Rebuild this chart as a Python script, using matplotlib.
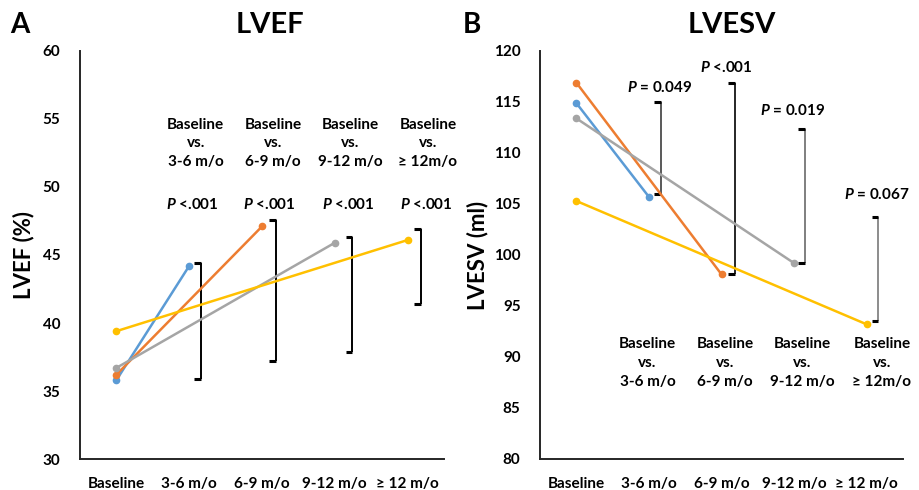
import numpy as np
import matplotlib
matplotlib.use("Agg")
import matplotlib.pyplot as plt

plt.rcParams['font.family'] = ['Lato', 'DejaVu Sans']
plt.rcParams['font.weight'] = 'bold'
plt.rcParams['axes.labelweight'] = 'bold'
plt.rcParams['mathtext.fontset'] = 'custom'
plt.rcParams['mathtext.it'] = 'Lato:italic:bold'
plt.rcParams['mathtext.rm'] = 'Lato:bold'

# categories
cats = ['Baseline', '3-6 m/o', '6-9 m/o', '9-12 m/o', '\u2265 12 m/o']
groups = ['3-6 m/o', '6-9 m/o', '9-12 m/o', '\u2265 12m/o']
colors = ['#5B9BD5', '#ED7D31', '#A5A5A5', '#FFC000']

# LVEF (%): baseline and follow-up per group
lvef_base = [35.8, 36.2, 36.7, 39.4]
lvef_follow = [44.2, 47.1, 45.9, 46.1]
lvef_br_lo = [35.9, 37.2, 37.9, 41.4]
lvef_br_hi = [44.4, 47.6, 46.3, 46.9]
lvef_p = ['$P$ <.001', '$P$ <.001', '$P$ <.001', '$P$ <.001']

# LVESV (ml)
lvesv_base = [114.9, 116.9, 113.4, 105.3]
lvesv_follow = [105.7, 98.1, 99.2, 93.2]
lvesv_br_lo = [106.0, 98.1, 99.2, 93.5]
lvesv_br_hi = [115.0, 116.9, 112.4, 103.7]
lvesv_p = ['$P$ = 0.049', '$P$ <.001', '$P$ = 0.019', '$P$ = 0.067']

fig = plt.figure(figsize=(9.19, 4.9), dpi=100)
ax1 = fig.add_axes([80/919, 1-459/490, 364/919, 408/490])
ax2 = fig.add_axes([540/919, 1-459/490, 363/919, 408/490])


def style(ax, ylo, yhi, step):
    ax.set_xlim(-0.5, 4.5)
    ax.set_ylim(ylo, yhi)
    ax.set_yticks(np.arange(ylo, yhi + 1, step))
    ax.set_xticks(range(5))
    ax.set_xticklabels(cats)
    ax.tick_params(length=0, labelsize=11, pad=13)
    ax.tick_params(axis='y', pad=14)
    for s in ['top', 'right']:
        ax.spines[s].set_visible(False)
    for s in ['left', 'bottom']:
        ax.spines[s].set_linewidth(1.4)
        ax.spines[s].set_color('#262626')


def draw(ax, base, follow):
    for i in range(4):
        ax.plot([0, i + 1], [base[i], follow[i]], color=colors[i], lw=1.8,
                marker='o', ms=4.5, zorder=3)


def bracket(ax, x, lo, hi, col='black', lw=1.4):
    ax.plot([x, x], [lo, hi], color=col, lw=lw, solid_capstyle='butt')
    ax.plot([x - 0.09, x], [lo, lo], color='black', lw=2.2, solid_capstyle='butt')
    ax.plot([x - 0.09, x], [hi, hi], color='black', lw=2.2, solid_capstyle='butt')


# panel A
style(ax1, 30, 60, 5)
draw(ax1, lvef_base, lvef_follow)
bx1 = [1.16, 2.19, 3.24, 4.18]
for i in range(4):
    bracket(ax1, bx1[i], lvef_br_lo[i], lvef_br_hi[i])
tx1 = [1.09, 2.15, 3.21, 4.28]
px1 = [1.04, 2.10, 3.18, 4.25]
for i in range(4):
    ax1.text(tx1[i], 53.2, 'Baseline\nvs.\n' + groups[i], ha='center', va='center',
             fontsize=11, linespacing=1.45)
    ax1.text(px1[i], 48.7, lvef_p[i], ha='center', va='center', fontsize=11)
ax1.set_ylabel('LVEF (%)', fontsize=16, labelpad=6)
fig.text(270/919, 1-25/490, 'LVEF', ha='center', va='center', fontsize=21)
fig.text(20/919, 1-25/490, 'A', ha='center', va='center', fontsize=20)

# panel B
style(ax2, 80, 120, 5)
draw(ax2, lvesv_base, lvesv_follow)
bx2 = [1.16, 2.18, 3.15, 4.16]
bcol = ['#595959', '#262626', '#7F7F7F', '#8C8C8C']
for i in range(4):
    bracket(ax2, bx2[i], lvesv_br_lo[i], lvesv_br_hi[i], col=bcol[i], lw=1.4)
tx2 = [0.98, 2.05, 3.11, 4.21]
for i in range(4):
    ax2.text(tx2[i], 89.4, 'Baseline\nvs.\n' + groups[i], ha='center', va='center',
             fontsize=11, linespacing=1.45)
ppos2 = [(1.15, 116.4), (2.07, 118.4), (2.98, 114.2), (4.14, 105.9)]
for i in range(4):
    ax2.text(ppos2[i][0], ppos2[i][1], lvesv_p[i], ha='center', va='center', fontsize=11)
ax2.set_ylabel('LVESV (ml)', fontsize=16, labelpad=4)
fig.text(732/919, 1-25/490, 'LVESV', ha='center', va='center', fontsize=21)
fig.text(472/919, 1-25/490, 'B', ha='center', va='center', fontsize=20)

fig.savefig('out.png', dpi=100)
